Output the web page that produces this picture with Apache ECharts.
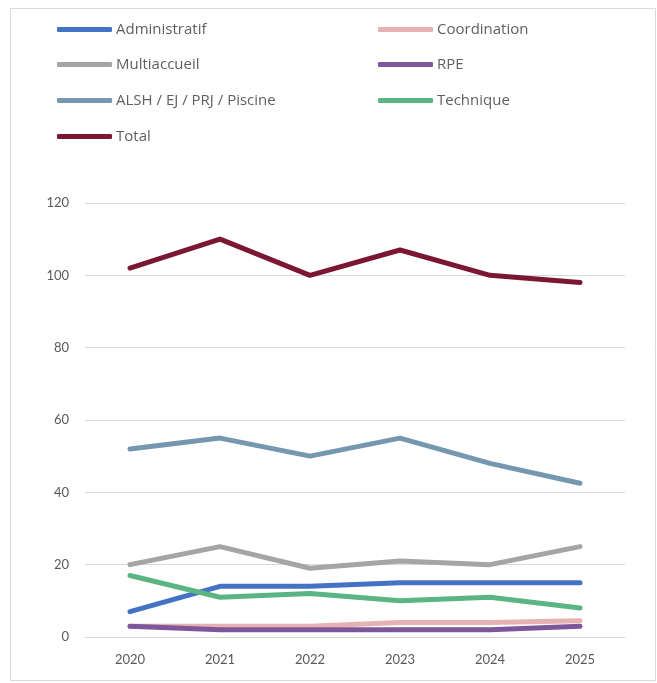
<!DOCTYPE html>
<html><head><meta charset="utf-8">
<script src="https://cdn.jsdelivr.net/npm/echarts@6/dist/echarts.min.js"></script>
<style>html,body{margin:0;padding:0;background:#fff}#c{width:657px;height:683px}</style>
</head><body><div id="c"></div>
<script>
const years = ['2020','2021','2022','2023','2024','2025'];
const administratif = [7,14,14,15,15,15];
const coordination = [3,3,3,4,4,4.5];
const multiaccueil = [20,25,19,21,20,25];
const rpe = [3,2,2,2,2,3];
const alsh = [52,55,50,55,48,42.5];
const technique = [17,11,12,10,11,8];
const total = [102,110,100,107,100,98];

const seriesDefs = [
  {name:'Administratif', data:administratif, color:'#4472C4'},
  {name:'Coordination', data:coordination, color:'#E6B1B1'},
  {name:'Multiaccueil', data:multiaccueil, color:'#A5A5A5'},
  {name:'RPE', data:rpe, color:'#7D569C'},
  {name:'ALSH / EJ / PRJ / Piscine', data:alsh, color:'#7598B0'},
  {name:'Technique', data:technique, color:'#5AB582'},
  {name:'Total', data:total, color:'#7B1732'}
];
const legendPos = [[57,22],[378,22],[57,57],[378,57],[57,93],[378,93],[57,129]];
const legendFont = '"Open Sans", Lato, sans-serif';
const font = 'Lato, "Open Sans", sans-serif';

const chart = echarts.init(document.getElementById('c'), null, {renderer:'canvas'});
chart.setOption({
  animation:false,
  color: seriesDefs.map(s=>s.color),
  graphic:[{type:'rect', shape:{x:10.5,y:8.5,width:645,height:672}, style:{fill:'none', stroke:'#d9d9d9', lineWidth:1}, silent:true, z:-1}],
  legend: seriesDefs.map((s,i)=>({
    data:[s.name], left:legendPos[i][0], top:legendPos[i][1],
    icon:'roundRect', itemWidth:55, itemHeight:5, itemGap:5,
    padding:0, selectedMode:false,
    textStyle:{color:'#5f5f5f', fontSize:15, fontFamily:legendFont, padding:[0,0,0,-1]}
  })),
  grid:{left:85, right:32, top:203, bottom:46, containLabel:false},
  xAxis:{type:'category', data:years, boundaryGap:true,
    axisLine:{show:true, lineStyle:{color:'#d9d9d9', width:1}},
    axisTick:{show:false},
    axisLabel:{color:'#595959', fontSize:13, fontFamily:font, margin:16}
  },
  yAxis:{type:'value', min:0, max:120, interval:20,
    axisLine:{show:false}, axisTick:{show:false},
    splitLine:{lineStyle:{color:'#d9d9d9', width:1}},
    axisLabel:{color:'#595959', fontSize:13, fontFamily:font, margin:16}
  },
  series: seriesDefs.map(s=>({
    name:s.name, type:'line', data:s.data, showSymbol:false, symbol:'none',
    lineStyle:{width:5, color:s.color, cap:'round', join:'round'},
    itemStyle:{color:s.color}
  }))
});
</script></body></html>
